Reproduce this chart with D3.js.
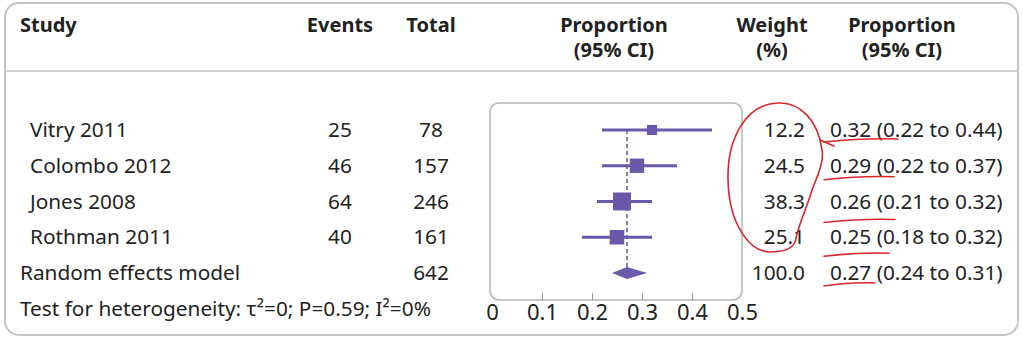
<!DOCTYPE html>
<html>
<head>
<meta charset="utf-8">
<script src="https://cdn.jsdelivr.net/npm/d3@7"></script>
<style>
  body { margin: 0; background: #fff; }
  text { font-family: "Noto Sans", "Open Sans", sans-serif; fill: #222; }
  .hdr { font-weight: bold; font-size: 20px; }
  .cell { font-size: 20.8px; }
  .axis text { font-size: 22px; fill: #222; }
  .axis line { stroke: #999; }
</style>
</head>
<body>
<script>
const studies = ["Vitry 2011", "Colombo 2012", "Jones 2008", "Rothman 2011"];
const events = [25, 46, 64, 40];
const totals = [78, 157, 246, 161];
const estimates = [0.32, 0.29, 0.26, 0.25];
const lower = [0.22, 0.22, 0.21, 0.18];
const upper = [0.44, 0.37, 0.32, 0.32];
const weights = [12.2, 24.5, 38.3, 25.1];
const pooledLabel = "Random effects model";
const pooledTotal = 642;
const pooledWeight = 100.0;
const pooledCI = [0.27, 0.24, 0.31]; // estimate, lower, upper
const xTicks = [0, 0.1, 0.2, 0.3, 0.4, 0.5];
const heterogeneity = "Test for heterogeneity: τ²=0; P=0.59; I²=0%";

const W = 1023, H = 340;
const purple = "#6a58a8";
const fmt2 = d3.format(".2f");

const svg = d3.select("body").append("svg")
  .attr("width", W).attr("height", H);

// outer frame + header rule
svg.append("rect")
  .attr("x", 5).attr("y", 3).attr("width", 1013).attr("height", 332)
  .attr("rx", 14).attr("fill", "#fff").attr("stroke", "#c4c4c4").attr("stroke-width", 2);
svg.append("line")
  .attr("x1", 6).attr("x2", 1017).attr("y1", 71).attr("y2", 71)
  .attr("stroke", "#c4c4c4").attr("stroke-width", 1.5);

const x = d3.scaleLinear().domain([0, 0.5]).range([492, 742]);
const y = d3.scaleLinear().domain([0, 4]).range([130, 273]);

const colEvents = 340, colTotal = 431, colWeight = 805, colProp = 830;

// headers
const hdr = svg.append("g").attr("class", "hdr");
hdr.append("text").attr("x", 20).attr("y", 32).text("Study");
hdr.append("text").attr("x", colEvents).attr("y", 32).attr("text-anchor", "middle").text("Events");
hdr.append("text").attr("x", colTotal).attr("y", 32).attr("text-anchor", "middle").text("Total");
[["Proportion", "(95% CI)", 614], ["Weight", "(%)", 772], ["Proportion", "(95% CI)", 902]]
  .forEach(([a, b, cx]) => {
    hdr.append("text").attr("x", cx).attr("y", 32).attr("text-anchor", "middle").text(a);
    hdr.append("text").attr("x", cx).attr("y", 57).attr("text-anchor", "middle").text(b);
  });

// plot box
svg.append("rect")
  .attr("x", 490).attr("y", 103).attr("width", 252).attr("height", 197)
  .attr("rx", 9).attr("fill", "none").attr("stroke", "#b5b5b5").attr("stroke-width", 1.5);

const axis = d3.axisBottom(x).tickValues(xTicks).tickSize(-7).tickPadding(4)
  .tickFormat(d3.format("~g"));
svg.append("g").attr("class", "axis")
  .attr("transform", "translate(0,300)")
  .call(axis)
  .call(g => g.select(".domain").remove())
  .call(g => g.selectAll(".tick").filter(d => d === 0 || d === 0.5).select("line").remove());

// pooled estimate dashed line
svg.append("line")
  .attr("x1", x(pooledCI[0])).attr("x2", x(pooledCI[0]))
  .attr("y1", y(0)).attr("y2", y(4))
  .attr("stroke", purple).attr("stroke-width", 1.6).attr("stroke-dasharray", "4,3");

// study rows
const rows = studies.map((s, i) => ({
  s, ev: events[i], tot: totals[i], est: estimates[i],
  lo: lower[i], hi: upper[i], w: weights[i], i
}));

const g = svg.append("g");
g.selectAll(".ci").data(rows).join("line")
  .attr("x1", d => x(d.lo)).attr("x2", d => x(d.hi))
  .attr("y1", d => y(d.i)).attr("y2", d => y(d.i))
  .attr("stroke", purple).attr("stroke-width", 3);

const size = d => 2.9 * Math.sqrt(d.w);
g.selectAll(".sq").data(rows).join("rect")
  .attr("x", d => x(d.est) - size(d) / 2).attr("y", d => y(d.i) - size(d) / 2)
  .attr("width", size).attr("height", size)
  .attr("fill", purple);

// diamond
const dy = y(4);
svg.append("path")
  .attr("d", `M${x(pooledCI[1])},${dy}L${x(pooledCI[0])},${dy - 6}L${x(pooledCI[2])},${dy}L${x(pooledCI[0])},${dy + 6}Z`)
  .attr("fill", purple);

// table text
const t = svg.append("g").attr("class", "cell");
const base = d => y(d.i) + 7;
t.selectAll(".nm").data(rows).join("text")
  .attr("x", 30).attr("y", base).text(d => d.s);
t.selectAll(".ev").data(rows).join("text")
  .attr("x", colEvents).attr("y", base).attr("text-anchor", "middle").text(d => d.ev);
t.selectAll(".tt").data(rows).join("text")
  .attr("x", colTotal).attr("y", base).attr("text-anchor", "middle").text(d => d.tot);
t.selectAll(".wt").data(rows).join("text")
  .attr("x", colWeight).attr("y", base).attr("text-anchor", "end").text(d => d.w.toFixed(1));
t.selectAll(".pr").data(rows).join("text")
  .attr("x", colProp).attr("y", base)
  .text(d => `${fmt2(d.est)} (${fmt2(d.lo)} to ${fmt2(d.hi)})`);

const py = y(4) + 7;
t.append("text").attr("x", 20).attr("y", py).text(pooledLabel);
t.append("text").attr("x", colTotal).attr("y", py).attr("text-anchor", "middle").text(pooledTotal);
t.append("text").attr("x", colWeight).attr("y", py).attr("text-anchor", "end").text(pooledWeight.toFixed(1));
t.append("text").attr("x", colProp).attr("y", py)
  .text(`${fmt2(pooledCI[0])} (${fmt2(pooledCI[1])} to ${fmt2(pooledCI[2])})`);
t.append("text").attr("x", 20).attr("y", y(5) + 7).text(heterogeneity);

// hand-drawn red annotations
const red = svg.append("g").attr("fill", "none").attr("stroke", "#d9262b")
  .attr("stroke-width", 1.6).attr("stroke-linecap", "round");
red.append("path")
  .attr("d", "M822,150 C818,120 800,102 778,103 C745,104 727,140 728,180 C729,225 750,252 770,252 C785,252 795,248 796,238 C800,220 808,205 812,190 C820,170 824,160 822,150");
red.append("path").attr("d", "M820,140 L834,146");
const ul = [[y(0) + 11, 68], [y(1) + 13, 64], [y(2) + 20, 65], [y(3) + 18, 59], [y(4) + 12, 45]];
ul.forEach(([yy, len]) => {
  red.append("path")
    .attr("d", `M${colProp - 6},${yy + 1} Q${colProp + len / 2},${yy - 3} ${colProp + len},${yy - 2}`);
});
</script>
</body>
</html>
